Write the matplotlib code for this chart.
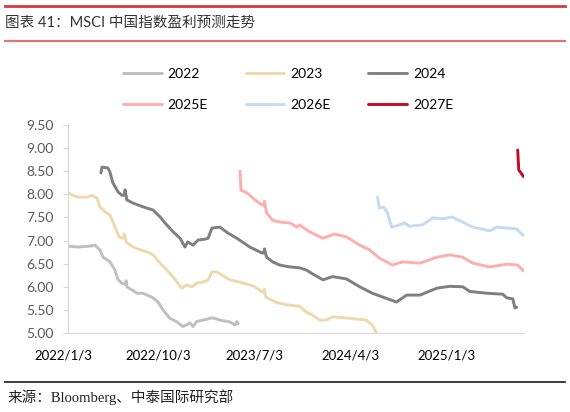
import numpy as np
import pandas as pd
import matplotlib
matplotlib.use('Agg')
import matplotlib.pyplot as plt
from matplotlib.lines import Line2D
from matplotlib.transforms import ScaledTranslation

plt.rcParams['font.family'] = ['Lato', 'Noto Sans CJK SC', 'DejaVu Sans']

# ---- data ----
d2022 = ['2022-01-03', '2022-01-31', '2022-03-07', '2022-03-21', '2022-04-04', '2022-04-13',
         '2022-05-03', '2022-05-17', '2022-05-26', '2022-06-06', '2022-06-16', '2022-06-18',
         '2022-06-20', '2022-07-05', '2022-07-19', '2022-08-05', '2022-09-03', '2022-09-17',
         '2022-10-01', '2022-10-21', '2022-11-10', '2022-11-27', '2022-12-09', '2022-12-17',
         '2022-12-26', '2023-01-06', '2023-02-04', '2023-02-18', '2023-03-13', '2023-04-10',
         '2023-04-25', '2023-04-30', '2023-05-03']
v2022 = [6.88, 6.86, 6.88, 6.90, 6.80, 6.64, 6.54, 6.36, 6.15, 6.08, 6.05, 6.13,
         6.00, 5.93, 5.86, 5.86, 5.76, 5.67, 5.50, 5.32, 5.24, 5.14, 5.18, 5.22,
         5.14, 5.25, 5.30, 5.33, 5.28, 5.24, 5.17, 5.25, 5.20]

d2023 = ['2022-01-03', '2022-01-29', '2022-02-26', '2022-03-12', '2022-03-27', '2022-04-04',
         '2022-04-19', '2022-05-03', '2022-05-17', '2022-05-29', '2022-06-09', '2022-06-13',
         '2022-06-18', '2022-07-08', '2022-07-27', '2022-08-19', '2022-09-03', '2022-09-23',
         '2022-10-13', '2022-10-30', '2022-11-24', '2022-12-09', '2022-12-23', '2023-01-06',
         '2023-01-23', '2023-02-07', '2023-02-18', '2023-03-04', '2023-03-19', '2023-04-10',
         '2023-05-09', '2023-06-15', '2023-07-14', '2023-07-18', '2023-07-21', '2023-08-21',
         '2023-09-19', '2023-10-26', '2023-11-15', '2023-12-02', '2023-12-22', '2024-01-11',
         '2024-01-28', '2024-03-17', '2024-05-04', '2024-05-21', '2024-06-02']
v2023 = [8.03, 7.94, 7.94, 7.98, 7.92, 7.73, 7.62, 7.55, 7.29, 7.08, 7.05, 7.14,
         6.97, 6.86, 6.80, 6.75, 6.69, 6.51, 6.36, 6.21, 5.97, 6.04, 6.00, 6.08,
         6.10, 6.15, 6.32, 6.32, 6.25, 6.15, 6.10, 6.02, 5.88, 5.95, 5.78, 5.66,
         5.61, 5.58, 5.45, 5.39, 5.28, 5.28, 5.35, 5.32, 5.28, 5.17, 5.00]

d2024 = ['2022-04-07', '2022-04-10', '2022-04-27', '2022-05-03', '2022-05-11', '2022-05-26',
         '2022-06-06', '2022-06-12', '2022-06-15', '2022-06-20', '2022-07-08', '2022-08-05',
         '2022-09-03', '2022-09-23', '2022-10-07', '2022-10-30', '2022-11-19', '2022-12-03',
         '2022-12-11', '2022-12-26', '2023-01-09', '2023-01-29', '2023-02-07', '2023-02-18',
         '2023-03-13', '2023-04-05', '2023-04-30', '2023-06-06', '2023-07-11', '2023-07-16',
         '2023-07-18', '2023-07-24', '2023-08-10', '2023-08-30', '2023-09-28', '2023-10-26',
         '2023-11-15', '2023-12-02', '2024-01-01', '2024-01-28', '2024-03-08', '2024-04-15',
         '2024-05-21', '2024-06-19', '2024-07-29', '2024-08-27', '2024-10-04', '2024-11-21',
         '2024-12-28', '2025-02-03', '2025-02-23', '2025-04-13', '2025-05-28', '2025-06-09',
         '2025-06-26', '2025-07-02', '2025-07-07']
v2024 = [8.46, 8.59, 8.57, 8.48, 8.25, 8.05, 7.98, 7.98, 8.10, 7.88, 7.81, 7.73,
         7.66, 7.51, 7.38, 7.19, 7.05, 6.86, 6.97, 6.90, 7.01, 7.03, 7.05, 7.27,
         7.29, 7.16, 7.05, 6.86, 6.73, 6.73, 6.82, 6.64, 6.54, 6.47, 6.43, 6.41,
         6.36, 6.28, 6.15, 6.22, 6.17, 6.00, 5.86, 5.78, 5.67, 5.82, 5.82, 5.97,
         6.01, 6.00, 5.90, 5.86, 5.84, 5.76, 5.74, 5.54, 5.56]

d2025e = ['2023-05-09', '2023-05-12', '2023-05-29', '2023-06-21', '2023-07-11', '2023-07-16',
          '2023-07-18', '2023-07-24', '2023-08-10', '2023-08-30', '2023-09-28', '2023-10-20',
          '2023-10-26', '2023-11-24', '2024-01-01', '2024-02-03', '2024-03-08', '2024-04-15',
          '2024-05-13', '2024-06-10', '2024-07-18', '2024-08-15', '2024-10-04', '2024-11-21',
          '2024-12-28', '2025-02-03', '2025-03-04', '2025-04-21', '2025-06-09', '2025-07-10',
          '2025-07-27']
v2025e = [8.50, 8.09, 8.03, 7.88, 7.77, 7.77, 7.85, 7.60, 7.44, 7.40, 7.38, 7.29,
          7.34, 7.19, 7.05, 7.14, 7.08, 6.90, 6.80, 6.62, 6.47, 6.54, 6.51, 6.64,
          6.69, 6.64, 6.51, 6.43, 6.49, 6.47, 6.34]

d2026e = ['2024-06-05', '2024-06-10', '2024-06-22', '2024-07-03', '2024-07-15', '2024-08-07',
          '2024-08-21', '2024-09-04', '2024-10-11', '2024-11-09', '2024-12-08', '2025-01-03',
          '2025-02-03', '2025-03-04', '2025-04-21', '2025-05-11', '2025-06-09', '2025-07-07',
          '2025-07-27']
v2026e = [7.94, 7.70, 7.73, 7.60, 7.29, 7.34, 7.38, 7.31, 7.34, 7.49, 7.47, 7.51,
          7.40, 7.29, 7.21, 7.29, 7.27, 7.25, 7.10]

d2027e = ['2025-07-10', '2025-07-13', '2025-07-27']
v2027e = [8.96, 8.53, 8.38]

SERIES = ['2022', '2023', '2024', '2025E', '2026E', '2027E']
COLORS = ['#BFBFBF', '#EED9AC', '#7F7F7F', '#FFADAD', '#C6DAF0', '#C00C25']
XTICKS = ['2022/1/3', '2022/10/3', '2023/7/3', '2024/4/3', '2025/1/3']
YTICKS = [5.0, 5.5, 6.0, 6.5, 7.0, 7.5, 8.0, 8.5, 9.0, 9.5]

data = [(d2022, v2022), (d2023, v2023), (d2024, v2024),
        (d2025e, v2025e), (d2026e, v2026e), (d2027e, v2027e)]

fig = plt.figure(figsize=(5.7, 4.12), dpi=100)
ax = fig.add_axes([68 / 570, 1 - 333 / 412, (524 - 68) / 570, (333 - 125) / 412])

handles = []
for (d, v), name, col in zip(data, SERIES, COLORS):
    ln, = ax.plot(pd.to_datetime(d), v, color=col, lw=2.1, solid_capstyle='round',
                  solid_joinstyle='round', label=name)
    handles.append(ln)

ax.set_xlim(pd.Timestamp('2022-01-03'), pd.Timestamp('2025-07-28'))
ax.set_ylim(5.0, 9.5)
ax.set_yticks(YTICKS)
ax.set_yticklabels([f'{y:.2f}' for y in YTICKS], color='#595959', fontsize=10)
ax.set_xticks(pd.to_datetime(XTICKS))
ax.set_xticklabels(XTICKS, fontsize=9.5, color='#000000')
ax.tick_params(axis='x', length=0, pad=12)
ax.tick_params(axis='y', length=3.6, color='#D9D9D9', width=0.8, pad=7)
# Excel centres the date labels slightly left of the tick
shift = ScaledTranslation(-5 / 100, 0, fig.dpi_scale_trans)
for lab in ax.get_xticklabels():
    lab.set_transform(lab.get_transform() + shift)
for s in ['top', 'right']:
    ax.spines[s].set_visible(False)
for s in ['left', 'bottom']:
    ax.spines[s].set_color('#D9D9D9')
    ax.spines[s].set_linewidth(0.9)

# legend: row-major order in 3 columns
order = [0, 3, 1, 4, 2, 5]
fig.legend([handles[i] for i in order], [SERIES[i] for i in order], ncol=3,
           loc='center', bbox_to_anchor=(0.505, 1 - 89.5 / 412), frameon=False,
           fontsize=10, handlelength=2.8, handletextpad=0.4, columnspacing=2.75,
           labelspacing=1.35, borderpad=0)

# header / footer decorations
fig.add_artist(Line2D([5 / 570, 565 / 570], [1 - 6 / 412, 1 - 6 / 412],
                      color='#D9383C', lw=2.0))
fig.add_artist(Line2D([5 / 570, 565 / 570], [1 - 41 / 412, 1 - 41 / 412],
                      color='#DC7777', lw=1.6))
fig.add_artist(Line2D([5 / 570, 565 / 570], [1 - 382 / 412, 1 - 382 / 412],
                      color='#1A1A1A', lw=1.2))
fig.text(5 / 570, 1 - 23 / 412, '图表 41：MSCI 中国指数盈利预测走势', fontsize=10.5,
         color='#333333', va='center', ha='left')
fig.text(8 / 570, 1 - 397 / 412, '来源：Bloomberg、中泰国际研究部', fontsize=10.5,
         color='#222222', va='center', ha='left',
         family=['Liberation Serif', 'Noto Sans CJK SC'])

fig.savefig('out.png', dpi=100)
